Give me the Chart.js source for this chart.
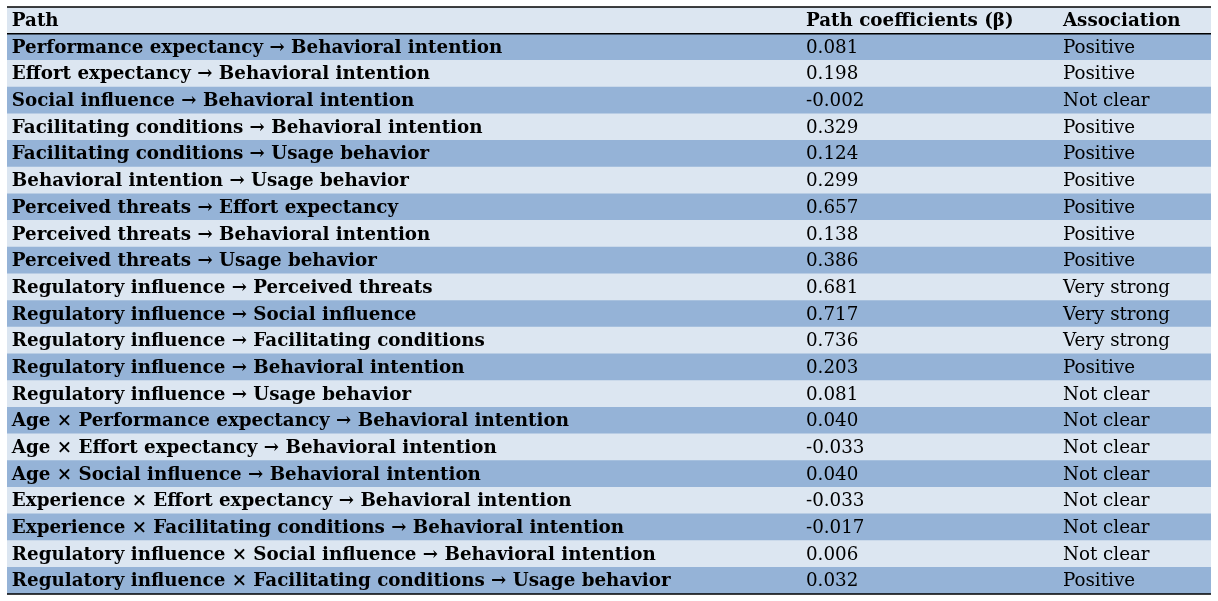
<!DOCTYPE html>
<html>
<head>
<meta charset="utf-8">
<script src="https://cdn.jsdelivr.net/npm/chart.js@4"></script>
<style>
  body { margin: 0; background: #fff; }
</style>
</head>
<body>
<canvas id="tbl" width="1218" height="601"></canvas>
<script>
// Table data
const headers = ["Path", "Path coefficients (β)", "Association"];
const paths = [
  "Performance expectancy → Behavioral intention",
  "Effort expectancy → Behavioral intention",
  "Social influence → Behavioral intention",
  "Facilitating conditions → Behavioral intention",
  "Facilitating conditions → Usage behavior",
  "Behavioral intention → Usage behavior",
  "Perceived threats → Effort expectancy",
  "Perceived threats → Behavioral intention",
  "Perceived threats → Usage behavior",
  "Regulatory influence → Perceived threats",
  "Regulatory influence → Social influence",
  "Regulatory influence → Facilitating conditions",
  "Regulatory influence → Behavioral intention",
  "Regulatory influence → Usage behavior",
  "Age × Performance expectancy → Behavioral intention",
  "Age × Effort expectancy → Behavioral intention",
  "Age × Social influence → Behavioral intention",
  "Experience × Effort expectancy → Behavioral intention",
  "Experience × Facilitating conditions → Behavioral intention",
  "Regulatory influence × Social influence → Behavioral intention",
  "Regulatory influence × Facilitating conditions → Usage behavior"
];
const coefficients = ["0.081","0.198","-0.002","0.329","0.124","0.299","0.657","0.138","0.386","0.681","0.717","0.736","0.203","0.081","0.040","-0.033","0.040","-0.033","-0.017","0.006","0.032"];
const associations = ["Positive","Positive","Not clear","Positive","Positive","Positive","Positive","Positive","Positive","Very strong","Very strong","Very strong","Positive","Not clear","Not clear","Not clear","Not clear","Not clear","Not clear","Not clear","Positive"];

const rowLabels = [headers[0]].concat(paths);
const light = "#dce6f1", dark = "#95b3d7";
const rowColors = rowLabels.map((_, i) => i % 2 === 0 ? light : dark);
const colX = [0.004, 0.6636, 0.877];
const FAMILY = "'DejaVu Serif'";

const tablePlugin = {
  id: "tableText",
  afterDatasetsDraw(chart) {
    const { ctx, scales: { x, y }, chartArea } = chart;
    ctx.save();
    // fit bold size so the longest path is ~659px wide like the source
    ctx.font = "bold 20px " + FAMILY;
    const w = ctx.measureText(paths[paths.length - 1]).width;
    const size = Math.min(20, 20 * 659 / w);
    ctx.fillStyle = "#000";
    ctx.textBaseline = "middle";
    rowLabels.forEach((lab, i) => {
      const py = y.getPixelForValue(i) + 1;
      const isHead = i === 0;
      const cells = isHead ? headers : [lab, coefficients[i - 1], associations[i - 1]];
      cells.forEach((t, c) => {
        const bold = isHead || c === 0;
        ctx.font = (bold ? "bold " : "") + size.toFixed(2) + "px " + FAMILY;
        ctx.fillText(t, x.getPixelForValue(colX[c]), py);
      });
    });
    // rules
    ctx.strokeStyle = "#000";
    ctx.lineWidth = 1.5;
    const yHeadBottom = (y.getPixelForValue(0) + y.getPixelForValue(1)) / 2;
    [chartArea.top, yHeadBottom, chartArea.bottom].forEach(py => {
      ctx.beginPath();
      ctx.moveTo(chartArea.left, py);
      ctx.lineTo(chartArea.right, py);
      ctx.stroke();
    });
    ctx.restore();
  }
};

new Chart(document.getElementById("tbl"), {
  type: "bar",
  data: {
    labels: rowLabels,
    datasets: [{
      data: rowLabels.map(() => [0, 1]),
      backgroundColor: rowColors,
      barPercentage: 1,
      categoryPercentage: 1,
      borderWidth: 0
    }]
  },
  options: {
    indexAxis: "y",
    responsive: false,
    animation: false,
    layout: { padding: { left: 7, right: 7, top: 7, bottom: 7 } },
    plugins: { legend: { display: false }, tooltip: { enabled: false } },
    scales: {
      x: { display: false, min: 0, max: 1 },
      y: { display: false }
    }
  },
  plugins: [tablePlugin]
});
</script>
</body>
</html>
